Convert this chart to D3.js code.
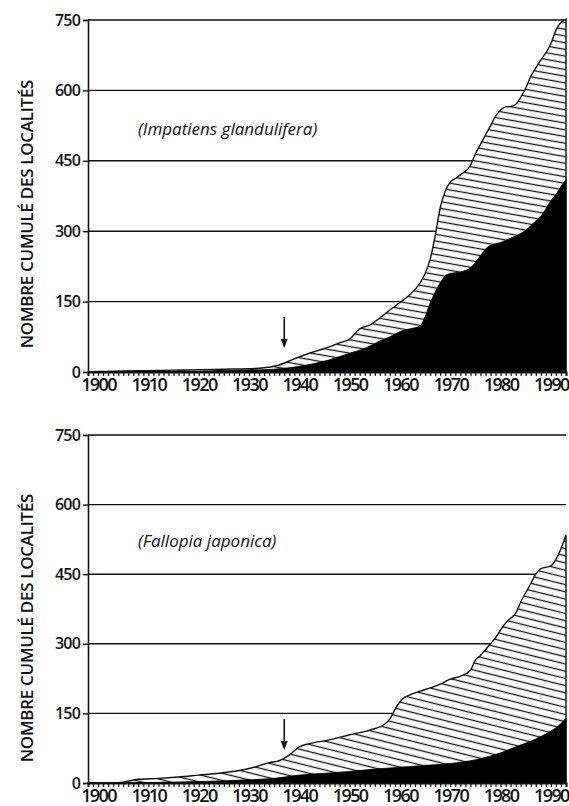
<!DOCTYPE html>
<html><head><meta charset="utf-8">
<script src="https://cdn.jsdelivr.net/npm/d3@7"></script>
<style>body{margin:0;background:#fff}svg{display:block}</style>
</head><body><svg id="c" width="569" height="806"></svg>
<script>
// ---------- DATA ----------
const yTicks = [0, 150, 300, 450, 600, 750];
const xTicks = [1900, 1910, 1920, 1930, 1940, 1950, 1960, 1970, 1980, 1990];
const yearStart = 1898, yearEnd = 1993;
const axisTitle = "NOMBRE CUMULÉ DES LOCALITÉS";
const arrowYear = 1937;

const impName = "(Impatiens glandulifera)";
const impTotalYears = [1898,1900,1905,1910,1915,1920,1925,1930,1933,1936,1939,1942,1945,1948,1950,1952,1954,1956,1958,1960,1962,1964,1965,1966,1967,1968,1969,1970,1971,1972,1974,1975,1976,1977,1978,1979,1980,1981,1982,1983,1984,1985,1986,1987,1988,1989,1990,1991,1992,1993];
const impTotal      = [0,1,2,3,4,5,6,7,9,15,28,40,50,62,70,92,100,115,132,148,165,190,210,240,290,350,385,405,412,420,440,465,485,505,525,545,558,565,566,570,585,605,630,648,665,680,700,728,745,752];
const impBlackYears = [1898,1900,1910,1920,1930,1935,1938,1940,1943,1946,1950,1953,1956,1958,1960,1962,1964,1965,1966,1967,1968,1969,1970,1972,1974,1976,1977,1978,1980,1982,1984,1985,1986,1987,1988,1989,1990,1991,1992,1993];
const impBlack      = [0,0,1,2,4,6,9,12,18,26,40,50,66,75,86,92,98,118,147,170,190,205,210,213,222,248,262,270,276,285,295,302,312,322,332,348,365,378,395,410];

const falName = "(Fallopia japonica)";
const falTotalYears = [1898,1902,1905,1908,1912,1916,1920,1924,1928,1931,1934,1936,1938,1940,1942,1946,1950,1954,1957,1958,1959,1960,1961,1962,1964,1966,1968,1970,1972,1974,1975,1976,1977,1978,1979,1980,1981,1982,1983,1984,1985,1986,1987,1988,1989,1990,1991,1992,1993];
const falTotal      = [0,0,2,8,10,13,17,21,27,34,44,48,60,78,85,93,104,114,127,138,158,175,185,190,198,205,213,224,230,243,265,275,287,300,313,330,345,355,366,390,410,430,450,462,465,468,482,505,535];
const falBlackYears = [1898,1905,1910,1920,1930,1935,1940,1945,1950,1955,1960,1965,1970,1975,1980,1983,1986,1988,1990,1992,1993];
const falBlack      = [0,0,1,3,7,10,17,21,25,30,34,38,42,50,65,78,90,100,112,128,140];

// ---------- DRAW ----------
const svg = d3.select("#c");
const FONT = "'Open Sans', 'DejaVu Sans', sans-serif";
const defs = svg.append("defs");

function hatch(id, angle, gap) {
  const p = defs.append("pattern").attr("id", id)
    .attr("patternUnits", "userSpaceOnUse")
    .attr("width", 20).attr("height", gap)
    .attr("patternTransform", `rotate(${angle})`);
  p.append("rect").attr("width", 20).attr("height", gap).attr("fill", "#fff");
  p.append("line").attr("x1", 0).attr("x2", 20).attr("y1", gap / 2).attr("y2", gap / 2)
    .attr("stroke", "#111").attr("stroke-width", 1.3);
}
hatch("h1", 10, 6.6);
hatch("h2", 14, 7.0);

function panel(cfg) {
  const x = d3.scaleLinear().domain([yearStart, yearEnd]).range([88, 566]);
  const y = d3.scaleLinear().domain([0, 750]).range([cfg.y0, cfg.y1]);
  const g = svg.append("g");

  g.selectAll("line.grid").data(yTicks.filter(d => d > 0)).join("line")
    .attr("x1", x(yearStart)).attr("x2", x(yearEnd))
    .attr("y1", d => y(d)).attr("y2", d => y(d))
    .attr("stroke", "#111").attr("stroke-width", 1.4);

  const tot = cfg.totYears.map((yr, i) => [yr, cfg.tot[i]]);
  const blk = cfg.blkYears.map((yr, i) => [yr, cfg.blk[i]]);
  const area = d3.area().x(d => x(d[0])).y0(y(0)).y1(d => y(d[1])).curve(d3.curveMonotoneX);

  g.append("path").datum(tot).attr("d", area)
    .attr("fill", `url(#${cfg.pat})`).attr("stroke", "#111").attr("stroke-width", 1.4);
  g.append("path").datum(blk).attr("d", area).attr("fill", "#000").attr("stroke", "#000").attr("stroke-width", 0.8);

  const ya = g.append("g").attr("transform", `translate(${x(yearStart)},0)`)
    .call(d3.axisLeft(y).tickValues(yTicks).tickSize(5).tickPadding(3));
  ya.select(".domain").attr("stroke", "#111").attr("stroke-width", 1.6);
  ya.selectAll(".tick line").attr("stroke", "#111").attr("stroke-width", 1.4);
  ya.selectAll("text").attr("font-family", FONT).attr("font-size", 16).attr("font-weight", 600)
    .attr("fill", "#111").attr("letter-spacing", -0.8);

  const xa = g.append("g").attr("transform", `translate(0,${y(0)})`)
    .call(d3.axisBottom(x).tickValues(d3.range(yearStart, yearEnd + 1)).tickSize(4).tickFormat(""));
  xa.select(".domain").attr("stroke", "#111").attr("stroke-width", 2);
  xa.selectAll(".tick line").attr("stroke", "#111").attr("stroke-width", 1.2);
  const xl = g.append("g").attr("transform", `translate(0,${y(0)})`)
    .call(d3.axisBottom(x).tickValues(xTicks).tickSize(0).tickPadding(6).tickFormat(d3.format("d")));
  xl.select(".domain").remove();
  xl.selectAll("text").attr("font-family", FONT).attr("font-size", 18).attr("font-weight", 600)
    .attr("fill", "#111").attr("letter-spacing", -1.6);

  g.append("text").attr("transform", `translate(33,${cfg.titleY}) rotate(-90)`)
    .attr("text-anchor", "middle").attr("font-family", FONT).attr("font-size", 17)
    .attr("font-weight", 600).attr("fill", "#111").attr("letter-spacing", -0.3).text(axisTitle);

  g.append("text").attr("x", 138).attr("y", y(cfg.labelV)).attr("dy", "0.35em")
    .attr("font-family", FONT).attr("font-size", 17).attr("font-style", "italic")
    .attr("fill", "#111").text(cfg.name);

  const ax = x(arrowYear);
  const tipY = y(0) - cfg.arrowGap;
  g.append("line").attr("x1", ax).attr("x2", ax).attr("y1", tipY - 31).attr("y2", tipY - 6)
    .attr("stroke", "#111").attr("stroke-width", 1.6);
  g.append("path").attr("d", `M${ax - 3.5},${tipY - 9}L${ax + 3.5},${tipY - 9}L${ax},${tipY}Z`).attr("fill", "#111");
}

panel({ y0: 372, y1: 20, totYears: impTotalYears, tot: impTotal, blkYears: impBlackYears, blk: impBlack,
        pat: "h1", name: impName, labelV: 517, titleY: 214, arrowGap: 24 });
panel({ y0: 783, y1: 435, totYears: falTotalYears, tot: falTotal, blkYears: falBlackYears, blk: falBlack,
        pat: "h2", name: falName, labelV: 522, titleY: 628, arrowGap: 33 });
</script></body></html>
